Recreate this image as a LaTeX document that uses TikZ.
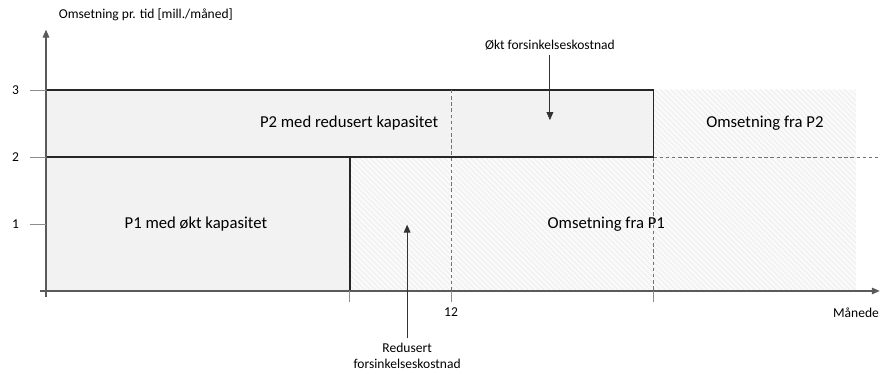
\documentclass[tikz,border=0pt]{standalone}
\usepackage{fontspec}
\setmainfont{Carlito}
\usetikzlibrary{arrows.meta,patterns}

\definecolor{boxfill}{RGB}{242,242,242}
\definecolor{hatchfill}{RGB}{250,250,250}
\definecolor{axisgray}{RGB}{90,90,90}

\tikzset{
  boxline/.style={draw=black!85,line width=0.9pt,fill=boxfill},
  hatched/.style={fill=hatchfill,pattern=north west lines,pattern color=black!7},
  guide/.style={dashed,draw=black!55,line width=0.4pt,dash pattern=on 2pt off 1.5pt},
  axisline/.style={draw=axisgray,line width=0.6pt},
  tickline/.style={draw=black!45,line width=0.5pt},
  pointer/.style={draw=black!80,line width=0.5pt,-{Triangle[length=4.5pt,width=3.8pt]}},
  boxtext/.style={font=\fontsize{9.5}{11}\selectfont},
  axistext/.style={font=\fontsize{7.7}{9.3}\selectfont},
}

\begin{document}
\begin{tikzpicture}[x=0.675cm,y=1.34cm]
       \useasboundingbox (-1.363,-1.224) rectangle (24.74,4.343);
       % shaded revenue regions
       \fill[hatchfill] (9,0) rectangle (24,2);
       \fill[hatchfill] (18,2) rectangle (24,3);
       \path[hatched] (9,0) rectangle (24,2);
       \path[hatched] (18,2) rectangle (24,3);
       % guide lines
       \draw[guide] (12,3) -- (12,-0.16);
       \draw[guide] (18,2) -- (18,-0.16);
       \draw[guide] (18,2) -- (24.7,2);
       % capacity boxes
       \draw[boxline] (0,2) rectangle (18,3);
       \draw[boxline] (0,0) rectangle (9,2);
       \draw[guide] (12,3) -- (12,2);
       % axes
       \coordinate (xs) at (-0.18,0);
       \coordinate (xe) at (24.7,0);
       \coordinate (ys) at (0,-0.09);
       \coordinate (ye) at (0,3.9);
       \draw[axisline,-{Triangle[length=4.5pt,width=3.8pt]}] (xs) -- (xe);
       \draw[axisline,-{Triangle[length=4.5pt,width=3.8pt]}] (ys) -- (ye);
       \node[axistext] (ylab) at (2.96,4.12) {Omsetning pr. tid [mill./måned]};
       \node[axistext] (xlab) at (24.0,-0.33) {Månede};
       % ticks
       \foreach \y in {1,2,3} {
         \draw[tickline] (-0.47,\y) -- (0,\y);
         \node[axistext] (ytick\y) at (-0.9,\y) {\y};
       }
       \foreach \x in {9,12,18} \draw[tickline] (\x,0) -- (\x,-0.16);
       \node[axistext] (xtick12) at (12,-0.31) {12};
       % box labels
       \node[boxtext] (p1) at (4.44,1) {P1 med økt kapasitet};
       \node[boxtext] (p2) at (8.98,2.5) {P2 med redusert kapasitet};
       \node[boxtext] (rev1) at (16.6,1) {Omsetning fra P1};
       \node[boxtext] (rev2) at (21.3,2.5) {Omsetning fra P2};
       % cost arrows
       \node[axistext,inner sep=1pt] (okt) at (14.93,3.67) {Økt forsinkelseskostnad};
       \coordinate (okttip) at (14.93,2.55);
       \draw[pointer] (okt.south) ++(0,-0.04) -- (okttip);
       \node[axistext,align=center,inner sep=1pt] (red) at (10.7,-0.97) {Redusert\\forsinkelseskostnad};
       \coordinate (redtip) at (10.7,0.99);
       \draw[pointer] (red.north) ++(0,0.04) -- (redtip);
\end{tikzpicture}
\end{document}
